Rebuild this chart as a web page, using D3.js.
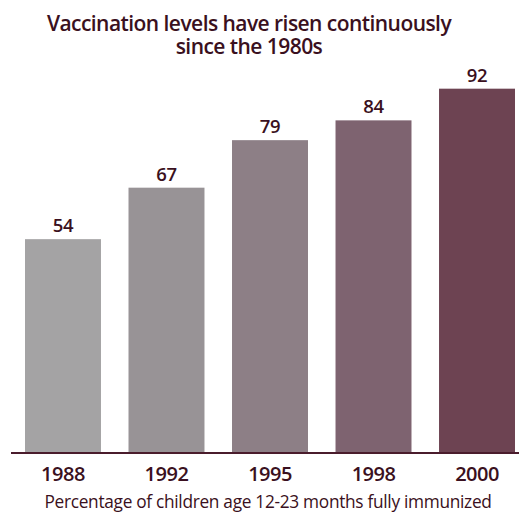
<!DOCTYPE html>
<html>
<head>
<meta charset="utf-8">
<script src="https://cdn.jsdelivr.net/npm/d3@7"></script>
<style>
  html, body { margin: 0; padding: 0; background: #ffffff; }
  svg { display: block; }
  text { font-family: "Open Sans", "Noto Sans", sans-serif; }
</style>
</head>
<body>
<svg id="chart" width="519" height="514"></svg>
<script>
const years = ["1988", "1992", "1995", "1998", "2000"];
const values = [54, 67, 79, 84, 92];
const barColors = ["#a4a3a4", "#989396", "#8d7f86", "#7e6370", "#6d4352"];
const titleLines = ["Vaccination levels have risen continuously", "since the 1980s"];
const caption = "Percentage of children age 12-23 months fully immunized";

const W = 519, H = 514;
const baseline = 453;
const textColor = "#3a1020";

const svg = d3.select("#chart");

const x = d3.scaleBand()
  .domain(years)
  .range([25, 515])
  .paddingInner(0.266)
  .paddingOuter(0);

const y = d3.scaleLinear()
  .domain([0, 100])
  .range([baseline, baseline - 396]);

// title (one text element, two lines)
const title = svg.append("text")
  .attr("text-anchor", "middle")
  .attr("font-size", 21)
  .attr("font-weight", 600)
  .attr("letter-spacing", -0.55)
  .attr("fill", textColor);
title.selectAll("tspan")
  .data(titleLines)
  .join("tspan")
  .attr("x", 249)
  .attr("y", (d, i) => 31 + i * 23)
  .text(d => d);

// bars
const data = years.map((yr, i) => ({ yr, v: values[i], c: barColors[i] }));
svg.append("g").selectAll("rect")
  .data(data)
  .join("rect")
  .attr("x", d => x(d.yr))
  .attr("y", d => y(d.v))
  .attr("width", x.bandwidth())
  .attr("height", d => y(0) - y(d.v))
  .attr("fill", d => d.c);

// value labels
svg.append("g").selectAll("text")
  .data(data)
  .join("text")
  .attr("x", d => x(d.yr) + x.bandwidth() / 2)
  .attr("y", d => y(d.v) - 7)
  .attr("text-anchor", "middle")
  .attr("font-size", 18.5)
  .attr("font-weight", 600)
  .attr("letter-spacing", -0.3)
  .attr("fill", textColor)
  .text(d => d.v);

// axis
const axis = svg.append("g")
  .attr("transform", `translate(0,${baseline})`)
  .call(d3.axisBottom(x).tickSize(0).tickPadding(14));
axis.select(".domain").remove();
axis.append("line")
  .attr("x1", 11).attr("x2", 519)
  .attr("y1", 0).attr("y2", 0)
  .attr("stroke", "#4a1c2c")
  .attr("stroke-width", 2);
axis.selectAll(".tick text")
  .attr("font-family", "'Open Sans', sans-serif")
  .attr("font-size", 20)
  .attr("font-weight", 600)
  .attr("letter-spacing", -0.5)
  .attr("fill", textColor);

// caption
svg.append("text")
  .attr("x", 268)
  .attr("y", 508)
  .attr("text-anchor", "middle")
  .attr("font-size", 17.3)
  .attr("font-weight", 500)
  .attr("letter-spacing", -0.3)
  .attr("fill", textColor)
  .text(caption);
</script>
</body>
</html>
